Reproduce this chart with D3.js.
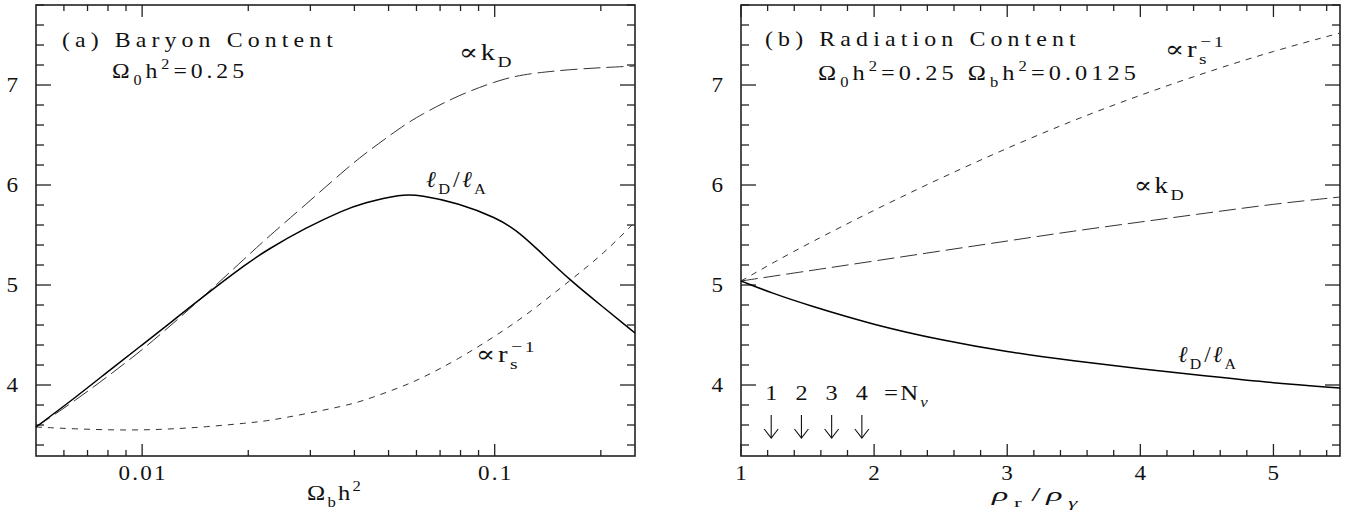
<!DOCTYPE html>
<html><head><meta charset="utf-8">
<script src="https://cdn.jsdelivr.net/npm/d3@7"></script>
<style>
body{margin:0;background:#fff;}
svg text{font-family:"Liberation Serif","DejaVu Serif",serif;fill:#111;white-space:pre;}
</style></head>
<body><svg id="c" width="1350" height="513"></svg>
<script>
// ---------- Data ----------
// Panel (a): baryon content, x = Omega_b h^2 (log scale)
const obh2      = [0.005,0.0065,0.0083,0.01,0.0121,0.0151,0.0199,0.0226,0.029,0.0373,0.0423,0.0543,0.0615,0.079,0.1014,0.115,0.1303,0.163,0.2046,0.25];
const aRatio    = [3.58,3.88,4.18,4.40,4.63,4.90,5.22,5.35,5.57,5.75,5.82,5.91,5.90,5.82,5.67,5.55,5.38,5.05,4.77,4.52];
const aKD       = [3.58,3.85,4.13,4.35,4.60,4.90,5.29,5.47,5.80,6.14,6.30,6.58,6.70,6.90,7.04,7.09,7.12,7.155,7.175,7.19];
const aRs       = [3.58,3.56,3.55,3.55,3.56,3.58,3.62,3.64,3.71,3.79,3.84,3.98,4.06,4.26,4.50,4.63,4.77,5.04,5.32,5.63];
// Panel (b): radiation content, x = rho_r / rho_gamma
const rhoRatio  = [1,1.25,1.5,2,2.5,3,3.5,4,4.5,5,5.5];
const bRatio    = [5.04,4.91,4.80,4.60,4.45,4.33,4.24,4.16,4.09,4.02,3.97];
const bKD       = [5.04,5.09,5.14,5.24,5.34,5.44,5.54,5.63,5.72,5.81,5.88];
const bRs       = [5.04,5.23,5.41,5.75,6.07,6.37,6.65,6.90,7.13,7.34,7.52];
// Neutrino species markers
const nNu       = [1,2,3,4];
const nNuRho    = [1.227,1.454,1.681,1.908];
// Ticks
const yMajor    = [4,5,6,7];
const aXMajor   = [0.01,0.1];
const aXLabels  = ["0.01","0.1"];
const bXMajor   = [1,2,3,4,5];
const bXLabels  = ["1","2","3","4","5"];

// ---------- Layout ----------
const svg = d3.select("#c");
const A = {l:36, r:635, t:5, b:456};
const B = {l:741, r:1340, t:5, b:456};
const yDom = [3.29, 7.8];
const xa = d3.scaleLog().domain([0.005,0.25]).range([A.l,A.r]);
const xb = d3.scaleLinear().domain([1,5.5]).range([B.l,B.r]);
const ya = d3.scaleLinear().domain(yDom).range([A.b,A.t]);
const yb = d3.scaleLinear().domain(yDom).range([B.b,B.t]);

// rich text with sub/superscripts; slightly stretched to mimic the wide plotting font
function rich(sel, x, y, parts, size, opt){
  opt = opt || {};
  const g = sel.append("g").attr("transform",`translate(${x},${y})`);
  const t = g.append("text").attr("x",0).attr("y",0).attr("font-size",size)
    .attr("letter-spacing",opt.ls||0).attr("text-anchor",opt.anchor||"start");
  let cur = 0;
  parts.forEach(p=>{
    const off = p.sub ? size*0.32 : (p.sup ? -size*0.42 : 0);
    const ts = t.append("tspan").attr("dy", off-cur).text(p.t);
    if(p.sub||p.sup) ts.attr("font-size", size*0.68);
    if(p.it) ts.attr("font-style","italic");
    if(p.dx) ts.attr("dx",p.dx);
    cur = off;
  });
  let sx = opt.sx || 1;
  if(opt.w){ const w = t.node().getBBox().width; sx = opt.w / w; }
  g.attr("transform",`translate(${x},${y}) scale(${sx},1)`);
  return g;
}

function yMinor(){ const r=[]; for(let v=3.4; v<=7.81; v+=0.2){ const k=Math.round(v*10)/10; if(!yMajor.includes(k)) r.push(k);} return r; }

function frame(P, x, y, xMaj, xMin, xLab){
  const g = svg.append("g");
  yMajor.forEach(v=>{
    g.append("line").attr("x1",P.l).attr("x2",P.l+15).attr("y1",y(v)).attr("y2",y(v));
    g.append("line").attr("x1",P.r).attr("x2",P.r-15).attr("y1",y(v)).attr("y2",y(v));
  });
  yMinor().forEach(v=>{
    g.append("line").attr("x1",P.l).attr("x2",P.l+8).attr("y1",y(v)).attr("y2",y(v));
    g.append("line").attr("x1",P.r).attr("x2",P.r-8).attr("y1",y(v)).attr("y2",y(v));
  });
  xMaj.forEach(v=>{
    g.append("line").attr("x1",x(v)).attr("x2",x(v)).attr("y1",P.b).attr("y2",P.b-12);
    g.append("line").attr("x1",x(v)).attr("x2",x(v)).attr("y1",P.t).attr("y2",P.t+12);
  });
  xMin.forEach(v=>{
    g.append("line").attr("x1",x(v)).attr("x2",x(v)).attr("y1",P.b).attr("y2",P.b-6);
    g.append("line").attr("x1",x(v)).attr("x2",x(v)).attr("y1",P.t).attr("y2",P.t+6);
  });
  g.selectAll("line").attr("stroke","#222").attr("stroke-width",1.3);
  g.append("rect").attr("x",P.l).attr("y",P.t).attr("width",P.r-P.l).attr("height",P.b-P.t)
    .attr("fill","none").attr("stroke","#222").attr("stroke-width",1.6);
  yMajor.forEach(v=>{
    rich(svg, P.l-18, y(v)+7, [{t:String(v)}], 21, {anchor:"end", sx:1.1});
  });
  xMaj.forEach((v,i)=>{
    rich(svg, x(v)+1, 480, [{t:xLab[i]}], 21, {anchor:"middle", sx:1.1, ls:2});
  });
}

const aXMinor = [];
[0.001,0.01,0.1].forEach(d=>{ for(let m=2;m<=9;m++){ const v=d*m; if(v>0.0051 && v<=0.25) aXMinor.push(v);} });
const bXMinor = [];
for(let v=1.2; v<5.5; v+=0.2){ const k=Math.round(v*10)/10; if(!bXMajor.includes(k)) bXMinor.push(k); }

frame(A, xa, ya, aXMajor, aXMinor, aXLabels);
frame(B, xb, yb, bXMajor, bXMinor, bXLabels);

// ---------- Curves ----------
function curve(x, y, xs, ys, style){
  const line = d3.line().x((d,i)=>x(xs[i])).y(d=>y(d)).curve(d3.curveBasis);
  const p = svg.append("path").attr("d", line(ys)).attr("fill","none");
  if(style==="solid") p.attr("stroke","#000").attr("stroke-width",1.5);
  if(style==="long") p.attr("stroke","#333").attr("stroke-width",1.0).attr("stroke-dasharray","17,6");
  if(style==="short") p.attr("stroke","#333").attr("stroke-width",1.0).attr("stroke-dasharray","6,6");
}
curve(xa, ya, obh2, aKD, "long");
curve(xa, ya, obh2, aRs, "short");
curve(xa, ya, obh2, aRatio, "solid");
curve(xb, yb, rhoRatio, bKD, "long");
curve(xb, yb, rhoRatio, bRs, "short");
curve(xb, yb, rhoRatio, bRatio, "solid");

// ---------- Arrows for N_nu ----------
nNuRho.forEach((r,i)=>{
  const x = xb(r);
  const y1 = yb(3.70), y2 = yb(3.47);
  svg.append("line").attr("x1",x).attr("x2",x).attr("y1",y1).attr("y2",y2).attr("stroke","#111").attr("stroke-width",1.1);
  svg.append("path").attr("d",`M${x-7},${y2-9} L${x},${y2} L${x+7},${y2-9}`).attr("fill","none").attr("stroke","#111").attr("stroke-width",1.1);
  rich(svg, x, 400, [{t:String(nNu[i])}], 22, {anchor:"middle", sx:1.1});
});
rich(svg, 884, 400, [{t:"=N"},{t:"ν",sub:true,it:true}], 22, {ls:2, w:46});

// ---------- Texts ----------
rich(svg, 62, 47, [{t:"(a) Baryon Content"}], 21, {ls:4.5, w:276});
rich(svg, 112, 78, [{t:"Ω"},{t:"0",sub:true},{t:"h"},{t:"2",sup:true},{t:"=0.25"}], 21, {ls:3.5, w:136});
rich(svg, 765, 46, [{t:"(b) Radiation Content"}], 21, {ls:4.5, w:316});
rich(svg, 818, 80, [{t:"Ω"},{t:"0",sub:true},{t:"h"},{t:"2",sup:true},{t:"=0.25 Ω"},{t:"b",sub:true},{t:"h"},{t:"2",sup:true},{t:"=0.0125"}], 21, {ls:3.5, w:322});

rich(svg, 459, 60, [{t:"∝k"},{t:"D",sub:true}], 23, {ls:2, w:55});
rich(svg, 426, 187, [{t:"ℓ",it:true},{t:"D",sub:true},{t:"/",dx:1},{t:"ℓ",it:true},{t:"A",sub:true}], 23, {ls:2, w:62});
rich(svg, 476, 362, [{t:"∝r"},{t:"s",sub:true},{t:"−1",sup:true,dx:-7}], 23, {ls:2, w:61});

rich(svg, 1165, 57, [{t:"∝r"},{t:"s",sub:true},{t:"−1",sup:true,dx:-7}], 23, {ls:2, w:61});
rich(svg, 1134, 193, [{t:"∝k"},{t:"D",sub:true}], 23, {ls:2, w:52});
rich(svg, 1178, 362, [{t:"ℓ",it:true},{t:"D",sub:true},{t:"/",dx:1},{t:"ℓ",it:true},{t:"A",sub:true}], 23, {ls:2, w:60});

rich(svg, 307, 500, [{t:"Ω"},{t:"b",sub:true},{t:"h"},{t:"2",sup:true}], 22, {ls:2, w:56});
rich(svg, 992, 501, [{t:"ρ",it:true},{t:"r",sub:true},{t:"/",dx:2},{t:"ρ",it:true},{t:"γ",sub:true,it:true}], 18, {ls:3, w:93});
</script></body></html>
